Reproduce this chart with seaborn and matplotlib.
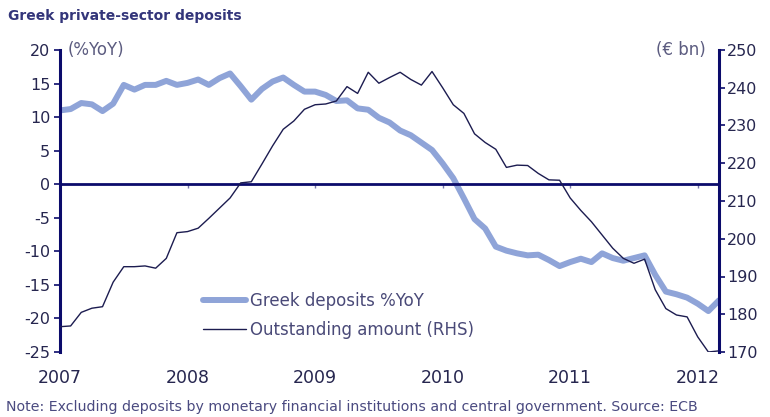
import numpy as np
import pandas as pd
import matplotlib
matplotlib.use("Agg")
import matplotlib.pyplot as plt
import seaborn as sns

# ---- data (monthly, Jan 2007 - Mar 2012) ----
months = pd.date_range("2007-01-01", periods=63, freq="MS")

deposits_yoy = [
    11.0, 11.2, 12.1, 11.9, 10.9, 12.0, 14.8, 14.1, 14.8, 14.8, 15.4, 14.8,   # 2007
    15.1, 15.6, 14.8, 15.8, 16.5, 14.6, 12.6, 14.2, 15.3, 15.9, 14.8, 13.8,   # 2008
    13.8, 13.3, 12.4, 12.5, 11.3, 11.1, 9.9, 9.2, 8.0, 7.3, 6.2, 5.1,         # 2009
    3.1, 0.9, -2.1, -5.2, -6.6, -9.3, -9.9, -10.3, -10.6, -10.5, -11.3, -12.2,  # 2010
    -11.6, -11.1, -11.6, -10.3, -11.0, -11.4, -11.0, -10.6, -13.5, -16.0, -16.4, -16.9,  # 2011
    -17.8, -18.9, -17.3,                                                       # 2012
]

outstanding_bn = [
    176.7, 176.9, 180.5, 181.6, 182.0, 188.5, 192.6, 192.6, 192.8, 192.2, 194.8, 201.6,  # 2007
    201.9, 202.8, 205.4, 208.1, 210.8, 214.8, 215.1, 219.8, 224.6, 229.0, 231.2, 234.3,  # 2008
    235.5, 235.7, 236.5, 240.3, 238.5, 244.1, 241.2, 242.7, 244.1, 242.2, 240.7, 244.3,  # 2009
    240.0, 235.5, 233.2, 227.8, 225.5, 223.7, 218.9, 219.5, 219.4, 217.3, 215.6, 215.5,  # 2010
    210.8, 207.5, 204.5, 201.0, 197.5, 194.8, 193.5, 194.6, 186.5, 181.5, 179.8, 179.3,  # 2011
    174.0, 170.0, 170.3,                                                                 # 2012
]

year_ticks = [2007, 2008, 2009, 2010, 2011, 2012]
left_ticks = [20, 15, 10, 5, 0, -5, -10, -15, -20, -25]
right_ticks = [250, 240, 230, 220, 210, 200, 190, 180, 170]

label_yoy = "Greek deposits %YoY"
label_amt = "Outstanding amount (RHS)"
title = "Greek private-sector deposits"
note = ("Note: Excluding deposits by monetary financial institutions and "
        "central government. Source: ECB")

# ---- frame ----
df = pd.DataFrame({
    "t": months.year + (months.month - 1) / 12.0,
    "yoy": deposits_yoy,
    "amt": outstanding_bn,
})

sns.set_theme(style="white")
plt.rcParams["font.family"] = ["DejaVu Sans"]
plt.rcParams["axes.unicode_minus"] = False

NAVY = "#0b0b6b"
TXT = "#26264f"
LIGHT = "#8fa4d8"
DARK = "#1c1c50"

fig = plt.figure(figsize=(7.7, 4.17), dpi=100)
ax = fig.add_axes([60 / 770, 1 - 352 / 417, (719 - 60) / 770, (352 - 50) / 417])
ax2 = ax.twinx()

sns.lineplot(data=df, x="t", y="yoy", ax=ax, color=LIGHT, linewidth=4.3,
             label=label_yoy, legend=False)
sns.lineplot(data=df, x="t", y="amt", ax=ax2, color=DARK, linewidth=1.0,
             label=label_amt, legend=False)

ax.set_xlim(df["t"].iloc[0], df["t"].iloc[-1])
ax.set_ylim(-25, 20)
ax2.set_ylim(170, 250)
ax.set_yticks(left_ticks)
ax2.set_yticks(right_ticks)
ax.set_xlabel("")
ax.set_ylabel("")
ax2.set_ylabel("")

for a in (ax, ax2):
    a.set_facecolor("none")
    a.spines["top"].set_visible(False)
    a.grid(False)
ax.set_facecolor("white")

ax.spines["right"].set_visible(False)
ax2.spines["left"].set_visible(False)
ax2.spines["bottom"].set_visible(False)
ax.spines["left"].set_color(NAVY)
ax.spines["left"].set_linewidth(2.2)
ax2.spines["right"].set_color(NAVY)
ax2.spines["right"].set_linewidth(2.2)
ax.spines["bottom"].set_position(("data", 0))
ax.spines["bottom"].set_color(NAVY)
ax.spines["bottom"].set_linewidth(2.0)

ax.set_xticks(year_ticks)
ax.tick_params(axis="x", direction="out", length=3, width=1, color="#7777aa",
               labelbottom=False, bottom=True)
ax.tick_params(axis="y", direction="out", length=4, width=1.2, color=NAVY,
               labelsize=11.5, labelcolor=TXT, left=True, pad=3)
ax2.tick_params(axis="y", direction="out", length=4, width=1.2, color=NAVY,
                labelsize=11.5, labelcolor=TXT, right=True, pad=2)

# year labels along the bottom
sec = ax.secondary_xaxis("bottom")
sec.set_xticks(year_ticks)
sec.set_xticklabels([str(y) for y in year_ticks])
sec.spines["bottom"].set_visible(False)
sec.tick_params(axis="x", length=0, labelsize=12.5, labelcolor=TXT, pad=12)

# unit labels
ax.text(0.011, 1.0, "(%YoY)", transform=ax.transAxes, ha="left", va="center",
        fontsize=12, color="#5c5c80")
ax2.text(0.980, 1.0, "(€ bn)", transform=ax2.transAxes, ha="right", va="center",
         fontsize=12, color="#5c5c80")

# legend
h1 = ax.get_lines()[0]
h2 = ax2.get_lines()[0]
leg = ax2.legend([h1, h2], [label_yoy, label_amt], loc="lower left",
                 bbox_to_anchor=(0.207, 0.022), frameon=False, fontsize=12,
                 handlelength=2.6, handletextpad=0.2, labelspacing=0.65,
                 borderaxespad=0)
for t in leg.get_texts():
    t.set_color("#4a4a78")

fig.text(8 / 770, 1 - 16 / 417, title, ha="left", va="center",
         fontsize=10, fontweight="bold", color="#33357a")
fig.text(6 / 770, 1 - 407 / 417, note, ha="left", va="center",
         fontsize=10.2, color="#4a4a80")

fig.savefig("out.png", dpi=100, facecolor="white")
